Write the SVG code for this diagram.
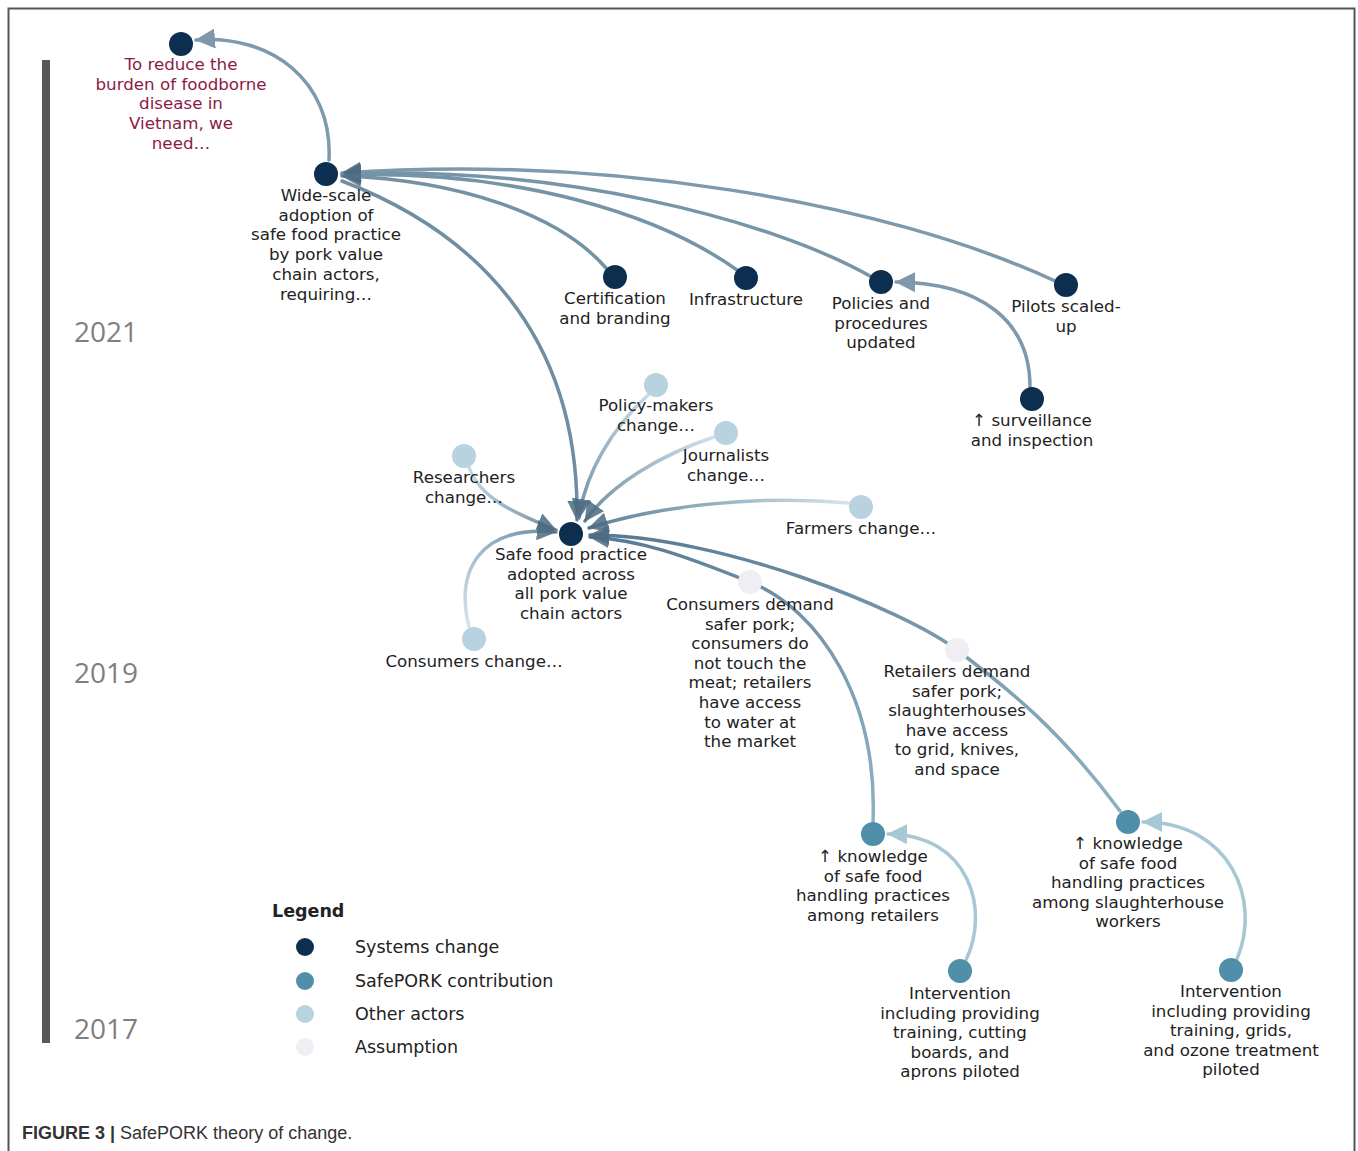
<svg xmlns="http://www.w3.org/2000/svg" width="1358" height="1151" viewBox="0 0 1358 1151">
<style>
.t{font-family:"DejaVu Sans","Open Sans",sans-serif;font-size:16.7px;fill:#222;text-anchor:middle}
.goal{fill:#8c1a48}
.yr{font-family:"Open Sans","Liberation Sans",sans-serif;font-size:28px;fill:#7f7f7f}
.lg{font-family:"DejaVu Sans","Open Sans",sans-serif;font-size:17.5px;fill:#222}
.sys{fill:#0c2f4f}
.sp{fill:#4f8fa9}
.oth{fill:#b8d2e0}
.asm{fill:#eeeef3}
.c{fill:none;stroke-width:3.5;stroke-linecap:round}
</style>
<defs>
<marker id="aS" viewBox="0 0 20 20" refX="19" refY="10" markerWidth="20" markerHeight="20" markerUnits="userSpaceOnUse" orient="auto"><path d="M0,0 L20,10 L0,20 z" fill="#7d99ab"/></marker>
<marker id="aD" viewBox="0 0 20 20" refX="19" refY="10" markerWidth="20" markerHeight="20" markerUnits="userSpaceOnUse" orient="auto"><path d="M0,0 L20,10 L0,20 z" fill="#4c6b81" fill-opacity="0.85"/></marker>
<marker id="aL" viewBox="0 0 20 20" refX="19" refY="10" markerWidth="20" markerHeight="20" markerUnits="userSpaceOnUse" orient="auto"><path d="M0,0 L20,10 L0,20 z" fill="#a7c7d5"/></marker>
<linearGradient id="gPM" gradientUnits="userSpaceOnUse" x1="650" y1="394" x2="579" y2="518"><stop offset="0" stop-color="#c7dce6"/><stop offset="1" stop-color="#6f8ea3"/></linearGradient>
<linearGradient id="gJ" gradientUnits="userSpaceOnUse" x1="714" y1="437" x2="585" y2="521"><stop offset="0" stop-color="#cfe1ea"/><stop offset="1" stop-color="#6f8ea3"/></linearGradient>
<linearGradient id="gR" gradientUnits="userSpaceOnUse" x1="469" y1="467" x2="556" y2="530"><stop offset="0" stop-color="#c7dce6"/><stop offset="1" stop-color="#6f8ea3"/></linearGradient>
<linearGradient id="gF" gradientUnits="userSpaceOnUse" x1="849" y1="503" x2="589" y2="528"><stop offset="0" stop-color="#d3e4ec"/><stop offset="1" stop-color="#5f8097"/></linearGradient>
<linearGradient id="gC" gradientUnits="userSpaceOnUse" x1="469" y1="627" x2="556" y2="532"><stop offset="0" stop-color="#d3e4ec"/><stop offset="1" stop-color="#6f8ea3"/></linearGradient>
<linearGradient id="gK1" gradientUnits="userSpaceOnUse" x1="873" y1="822" x2="590" y2="537"><stop offset="0" stop-color="#8db0c1"/><stop offset="1" stop-color="#567790"/></linearGradient>
<linearGradient id="gK2" gradientUnits="userSpaceOnUse" x1="1120" y1="811" x2="590" y2="535"><stop offset="0" stop-color="#8db0c1"/><stop offset="1" stop-color="#567790"/></linearGradient>
</defs>
<rect width="1358" height="1151" fill="#fff"/>
<path d="M8.5,1151 V8.5 H1354.5 V1151" fill="none" stroke="#555" stroke-width="2"/>
<rect x="42" y="60" width="8" height="983" fill="#595959"/>
<text class="yr" x="74" y="342">2021</text>
<text class="yr" x="74" y="683">2019</text>
<text class="yr" x="74" y="1039">2017</text>

<g id="connectors">
<path class="c" stroke="#7d99ab" d="M329,160 C333,80 270,34 196,40" marker-end="url(#aS)"/>
<path class="c" stroke="#7d99ab" d="M1055,281 C880,200 600,155 342,173" marker-end="url(#aD)"/>
<path class="c" stroke="#7895a8" d="M870,276 C770,220 560,165 342,174" marker-end="url(#aD)"/>
<path class="c" stroke="#7594a7" d="M737,270 C660,215 520,170 342,175" marker-end="url(#aD)"/>
<path class="c" stroke="#7392a6" d="M606,268 C560,215 460,180 342,176" marker-end="url(#aD)"/>
<path class="c" stroke="#6f8ea3" d="M342,181 C470,230 580,330 577,520" marker-end="url(#aD)"/>
<path class="c" stroke="#7d99ab" d="M1030,387 C1030,320 980,283 896,282" marker-end="url(#aS)"/>
<path class="c" stroke="url(#gPM)" d="M649,394 C610,430 585,475 579,518" marker-end="url(#aD)"/>
<path class="c" stroke="url(#gJ)" d="M714,437 C660,455 610,485 585,521" marker-end="url(#aD)"/>
<path class="c" stroke="url(#gR)" d="M469,467 C480,500 520,515 556,530" marker-end="url(#aD)"/>
<path class="c" stroke="url(#gF)" d="M849,503 C760,495 660,505 589,528" marker-end="url(#aD)"/>
<path class="c" stroke="url(#gC)" d="M469,627 C455,570 480,525 556,532" marker-end="url(#aD)"/>
<path class="c" stroke="url(#gK1)" d="M873,822 C878,700 820,610 750,582 S640,540 590,537" marker-end="url(#aD)"/>
<path class="c" stroke="url(#gK2)" d="M1120,811 C1060,730 1010,690 957,650 S720,535 590,535" marker-end="url(#aD)"/>
<path class="c" stroke="#a7c7d5" d="M966,960 C990,910 970,835 888,834" marker-end="url(#aL)"/>
<path class="c" stroke="#a7c7d5" d="M1237,959 C1262,900 1230,822 1143,822" marker-end="url(#aL)"/>
</g>

<g id="n-goal"><circle class="sys" cx="181" cy="44" r="12"/><text class="t goal" x="181" y="70"><tspan x="181">To reduce the</tspan><tspan x="181" dy="19.7">burden of foodborne</tspan><tspan x="181" dy="19.7">disease in</tspan><tspan x="181" dy="19.7">Vietnam, we</tspan><tspan x="181" dy="19.7">need…</tspan></text></g>
<g id="n-widescale"><circle class="sys" cx="326" cy="174" r="12"/><text class="t" y="201"><tspan x="326">Wide-scale</tspan><tspan x="326" dy="19.7">adoption of</tspan><tspan x="326" dy="19.7">safe food practice</tspan><tspan x="326" dy="19.7">by pork value</tspan><tspan x="326" dy="19.7">chain actors,</tspan><tspan x="326" dy="19.7">requiring…</tspan></text></g>
<g id="n-cert"><circle class="sys" cx="615" cy="277" r="12"/><text class="t" y="304"><tspan x="615">Certification</tspan><tspan x="615" dy="19.7">and branding</tspan></text></g>
<g id="n-infra"><circle class="sys" cx="746" cy="278" r="12"/><text class="t" x="746" y="305">Infrastructure</text></g>
<g id="n-policies"><circle class="sys" cx="881" cy="282" r="12"/><text class="t" y="309"><tspan x="881">Policies and</tspan><tspan x="881" dy="19.7">procedures</tspan><tspan x="881" dy="19.7">updated</tspan></text></g>
<g id="n-pilots"><circle class="sys" cx="1066" cy="285" r="12"/><text class="t" y="312"><tspan x="1066">Pilots scaled-</tspan><tspan x="1066" dy="19.7">up</tspan></text></g>
<g id="n-surv"><circle class="sys" cx="1032" cy="399" r="12"/><text class="t" y="426"><tspan x="1032">↑ surveillance</tspan><tspan x="1032" dy="19.7">and inspection</tspan></text></g>
<g id="n-policymakers"><circle class="oth" cx="656" cy="385" r="12"/><text class="t" y="411"><tspan x="656">Policy-makers</tspan><tspan x="656" dy="19.7">change…</tspan></text></g>
<g id="n-journalists"><circle class="oth" cx="726" cy="433" r="12"/><text class="t" y="461"><tspan x="726">Journalists</tspan><tspan x="726" dy="19.7">change…</tspan></text></g>
<g id="n-researchers"><circle class="oth" cx="464" cy="456" r="12"/><text class="t" y="483"><tspan x="464">Researchers</tspan><tspan x="464" dy="19.7">change…</tspan></text></g>
<g id="n-farmers"><circle class="oth" cx="861" cy="507" r="12"/><text class="t" x="861" y="534">Farmers change…</text></g>
<g id="n-safefood"><circle class="sys" cx="571" cy="534" r="12"/><text class="t" y="560"><tspan x="571">Safe food practice</tspan><tspan x="571" dy="19.7">adopted across</tspan><tspan x="571" dy="19.7">all pork value</tspan><tspan x="571" dy="19.7">chain actors</tspan></text></g>
<g id="n-consumers"><circle class="oth" cx="474" cy="639" r="12"/><text class="t" x="474" y="667">Consumers change…</text></g>
<g id="n-consdemand"><circle class="asm" cx="750" cy="582" r="12"/><text class="t" y="610"><tspan x="750">Consumers demand</tspan><tspan x="750" dy="19.6">safer pork;</tspan><tspan x="750" dy="19.6">consumers do</tspan><tspan x="750" dy="19.6">not touch the</tspan><tspan x="750" dy="19.6">meat; retailers</tspan><tspan x="750" dy="19.6">have access</tspan><tspan x="750" dy="19.6">to water at</tspan><tspan x="750" dy="19.6">the market</tspan></text></g>
<g id="n-retdemand"><circle class="asm" cx="957" cy="650" r="12"/><text class="t" y="677"><tspan x="957">Retailers demand</tspan><tspan x="957" dy="19.6">safer pork;</tspan><tspan x="957" dy="19.6">slaughterhouses</tspan><tspan x="957" dy="19.6">have access</tspan><tspan x="957" dy="19.6">to grid, knives,</tspan><tspan x="957" dy="19.6">and space</tspan></text></g>
<g id="n-knowret"><circle class="sp" cx="873" cy="834" r="12"/><text class="t" y="862"><tspan x="873">↑ knowledge</tspan><tspan x="873" dy="19.6">of safe food</tspan><tspan x="873" dy="19.6">handling practices</tspan><tspan x="873" dy="19.6">among retailers</tspan></text></g>
<g id="n-knowslau"><circle class="sp" cx="1128" cy="822" r="12"/><text class="t" y="849"><tspan x="1128">↑ knowledge</tspan><tspan x="1128" dy="19.6">of safe food</tspan><tspan x="1128" dy="19.6">handling practices</tspan><tspan x="1128" dy="19.6">among slaughterhouse</tspan><tspan x="1128" dy="19.6">workers</tspan></text></g>
<g id="n-interv1"><circle class="sp" cx="960" cy="971" r="12"/><text class="t" y="999"><tspan x="960">Intervention</tspan><tspan x="960" dy="19.6">including providing</tspan><tspan x="960" dy="19.6">training, cutting</tspan><tspan x="960" dy="19.6">boards, and</tspan><tspan x="960" dy="19.6">aprons piloted</tspan></text></g>
<g id="n-interv2"><circle class="sp" cx="1231" cy="970" r="12"/><text class="t" y="997"><tspan x="1231">Intervention</tspan><tspan x="1231" dy="19.6">including providing</tspan><tspan x="1231" dy="19.6">training, grids,</tspan><tspan x="1231" dy="19.6">and ozone treatment</tspan><tspan x="1231" dy="19.6">piloted</tspan></text></g>

<g id="legend">
<text class="lg" x="272" y="917" font-weight="bold" font-size="19">Legend</text>
<circle class="sys" cx="305" cy="947" r="9"/><text class="lg" x="355" y="953">Systems change</text>
<circle class="sp" cx="305" cy="981" r="9"/><text class="lg" x="355" y="987">SafePORK contribution</text>
<circle class="oth" cx="305" cy="1014" r="9"/><text class="lg" x="355" y="1020">Other actors</text>
<circle class="asm" cx="305" cy="1047" r="9"/><text class="lg" x="355" y="1053">Assumption</text>
</g>
<text x="22" y="1139" font-family="Liberation Sans, Arial, sans-serif" font-size="18" fill="#333"><tspan font-weight="bold">FIGURE 3 |</tspan> SafePORK theory of change.</text>
</svg>
